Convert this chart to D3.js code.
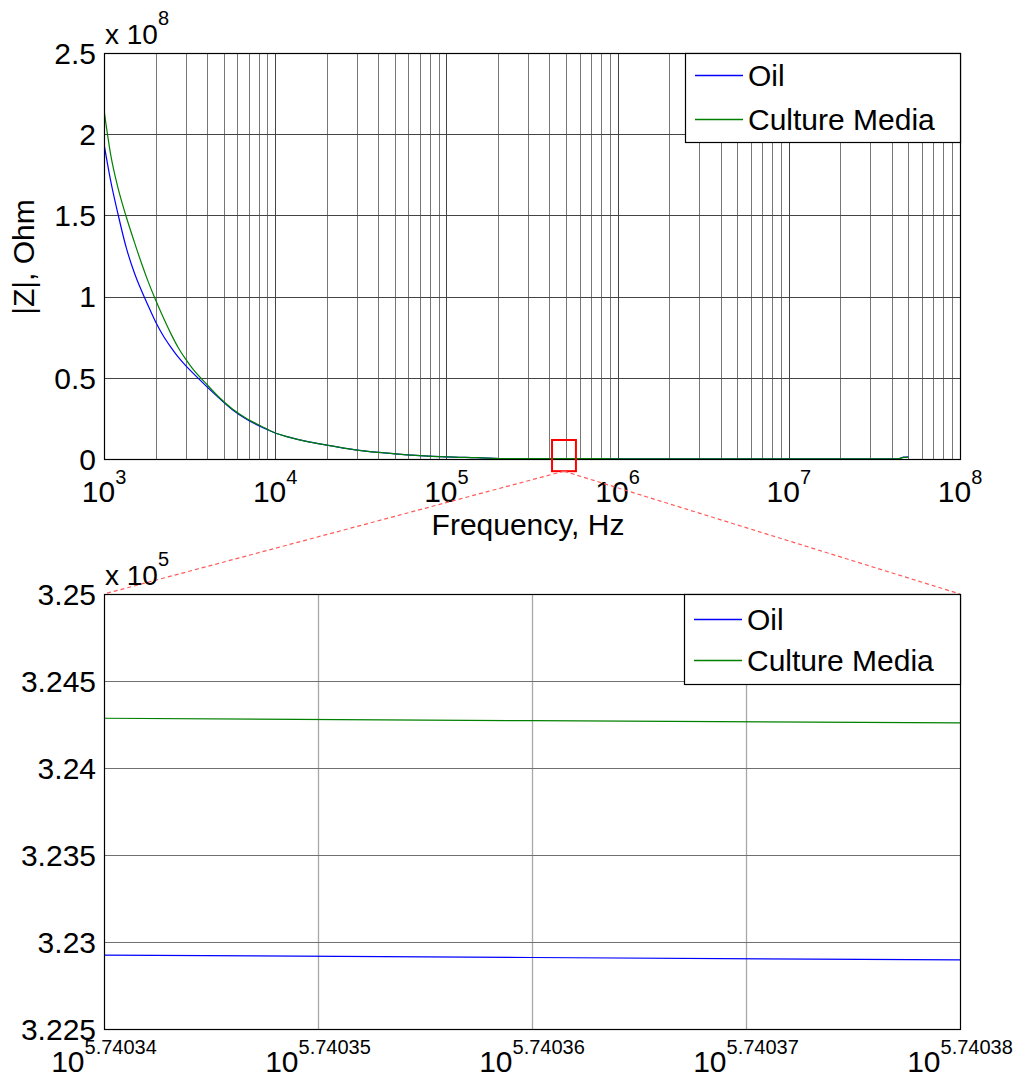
<!DOCTYPE html>
<html><head><meta charset="utf-8">
<script src="https://cdn.jsdelivr.net/npm/d3@7"></script>
<style>
body{margin:0;background:#fff}
text{font-family:"Liberation Sans",Arial,Helvetica,sans-serif;fill:#000}
</style>
</head><body>
<svg id="c" width="1021" height="1080"></svg>
<script>
// ---------- data ----------
const freq  = [1000,1100,1200,1350,1500,1650,1800,2000,2200,2450,2700,3000,3300,3900,4700,5600,6800,8200,10000,12000,15000,20000,30000,50000,70000,100000,150000,230000,500000,1e6,1e7,4.3e7,4.7e7,5e7];
// |Z| in units of 1e8 Ohm
const oil   = [1.94,1.70,1.52,1.30,1.15,1.04,0.95,0.845,0.765,0.69,0.63,0.575,0.53,0.455,0.375,0.305,0.245,0.20,0.16,0.135,0.11,0.085,0.055,0.032,0.021,0.013,0.008,0.002,0.0032,0.0016,0.0002,0.0005,0.012,0.014];
const media = [2.15,1.86,1.68,1.49,1.34,1.21,1.10,0.98,0.88,0.775,0.69,0.615,0.555,0.47,0.38,0.31,0.25,0.205,0.16,0.135,0.11,0.085,0.055,0.032,0.021,0.013,0.008,0.002,0.0032,0.0016,0.0002,0.0005,0.010,0.012];
// zoomed window (|Z| in units of 1e5 Ohm)
const zoomExp   = [5.74034,5.74036,5.74038];
const zoomOil   = [3.22925,3.22911,3.22897];
const zoomMedia = [3.24286,3.24272,3.24259];
// ticks
const topYTicks = [0,0.5,1,1.5,2,2.5];
const topXExp   = [3,4,5,6,7,8];
const botYTicks = [3.225,3.23,3.235,3.24,3.245,3.25];
const botXExp   = ["5.74034","5.74035","5.74036","5.74037","5.74038"];
const seriesNames = ["Oil","Culture Media"];
const seriesColors = ["#0000ff","#008000"];
// highlighted region on the top plot (frequency, |Z| ×1e8)
const boxFreq = [4.14e5,5.71e5];
const boxZ = [0.117,-0.075];

// ---------- layout ----------
const svg = d3.select("#c");
const L = 104, R = 960;
const T1 = 53, B1 = 459;
const T2 = 594, B2 = 1029;
const FS = 30;

// ---------- top plot ----------
const x1 = d3.scaleLog().domain([1e3,1e8]).range([L,R]);
const y1 = d3.scaleLinear().domain([0,2.5]).range([B1,T1]);

const g1 = svg.append("g");
const vGrid = [];
for (let k=3;k<8;k++) for (let m=1;m<=9;m++){ const v=m*Math.pow(10,k); if(v>1e3) vGrid.push(v); }
g1.selectAll(".vg").data(vGrid).join("line")
  .attr("x1",d=>Math.round(x1(d))+0.5).attr("x2",d=>Math.round(x1(d))+0.5)
  .attr("y1",T1).attr("y2",B1)
  .attr("stroke",d=>{const e=Math.log10(d);return Math.abs(e-Math.round(e))<1e-9?"#444":"#777";}).attr("stroke-width",1);
g1.selectAll(".hg").data(topYTicks.slice(1,-1)).join("line")
  .attr("x1",L).attr("x2",R).attr("y1",d=>Math.round(y1(d))+0.5).attr("y2",d=>Math.round(y1(d))+0.5)
  .attr("stroke","#444").attr("stroke-width",1);

svg.append("clipPath").attr("id","clip1").append("rect").attr("x",L).attr("y",T1).attr("width",R-L).attr("height",B1-T1+1);
const line1 = d3.line().x(d=>x1(d[0])).y(d=>y1(d[1])).curve(d3.curveMonotoneX);
const curves = svg.append("g").attr("clip-path","url(#clip1)");
curves.append("path").datum(freq.map((f,i)=>[f,oil[i]])).attr("d",line1)
  .attr("fill","none").attr("stroke",seriesColors[0]).attr("stroke-width",1.2);
curves.append("path").datum(freq.map((f,i)=>[f,media[i]])).attr("d",line1)
  .attr("fill","none").attr("stroke",seriesColors[1]).attr("stroke-width",1.2);

svg.append("rect").attr("x",L+0.5).attr("y",T1+0.5).attr("width",R-L).attr("height",B1-T1)
  .attr("fill","none").attr("stroke","#000").attr("stroke-width",1.2);

svg.append("g").selectAll("text").data(topYTicks).join("text")
  .attr("x",L-8).attr("y",d=>y1(d)).attr("dy","0.36em").attr("text-anchor","end")
  .attr("font-size",FS).text(d=>d);
const xt1 = svg.append("g").selectAll("text").data(topXExp).join("text")
  .attr("x",d=>x1(Math.pow(10,d))).attr("y",B1+43).attr("text-anchor","middle").attr("font-size",FS);
xt1.append("tspan").text("10");
xt1.append("tspan").attr("dy",-18).attr("font-size",20).text(d=>d);
const m1 = svg.append("text").attr("x",L+1).attr("y",T1-9).attr("font-size",28);
m1.append("tspan").text("x 10");
m1.append("tspan").attr("dy",-19).attr("font-size",20).text("8");
svg.append("text").attr("x",528).attr("y",535).attr("text-anchor","middle").attr("font-size",FS).text("Frequency, Hz");
svg.append("text").attr("transform","translate(34,257) rotate(-90)").attr("text-anchor","middle").attr("font-size",FS).text("|Z|, Ohm");

function legend(x0,y0,w,h,rows){
  const g = svg.append("g");
  g.append("rect").attr("x",x0+0.5).attr("y",y0+0.5).attr("width",w).attr("height",h)
    .attr("fill","#fff").attr("stroke","#000").attr("stroke-width",1.2);
  seriesNames.forEach((n,i)=>{
    g.append("line").attr("x1",x0+10).attr("x2",x0+58).attr("y1",rows[i]+0.5).attr("y2",rows[i]+0.5)
      .attr("stroke",seriesColors[i]).attr("stroke-width",1.5);
    g.append("text").attr("x",x0+63).attr("y",rows[i]).attr("dy","0.36em").attr("font-size",FS).text(n);
  });
}
legend(685,T1,275,89,[75,119]);

const bx0 = x1(boxFreq[0]), bx1 = x1(boxFreq[1]), by0 = y1(boxZ[0]), by1 = y1(boxZ[1]);
svg.append("rect").attr("x",bx0).attr("y",by0).attr("width",bx1-bx0).attr("height",by1-by0)
  .attr("fill","none").attr("stroke","#ff0000").attr("stroke-width",2);

// ---------- bottom plot ----------
const x2 = d3.scaleLog().domain([Math.pow(10,+botXExp[0]),Math.pow(10,+botXExp[botXExp.length-1])]).range([L,R]);
const y2 = d3.scaleLinear().domain([3.225,3.25]).range([B2,T2]);

const cx = (bx0+bx1)/2;
[[L,T2],[R,T2]].forEach(p=>{
  svg.append("line").attr("x1",cx).attr("y1",by1).attr("x2",p[0]).attr("y2",p[1])
    .attr("stroke","#ff5a5a").attr("stroke-width",1.2).attr("stroke-dasharray","4,3");
});

const g2 = svg.append("g");
g2.selectAll(".vg").data(botXExp.slice(1,-1)).join("line")
  .attr("x1",d=>Math.round(x2(Math.pow(10,+d)))+0.5).attr("x2",d=>Math.round(x2(Math.pow(10,+d)))+0.5)
  .attr("y1",T2).attr("y2",B2).attr("stroke","#a8a8a8").attr("stroke-width",1.3);
g2.selectAll(".hg").data(botYTicks.slice(1,-1)).join("line")
  .attr("x1",L).attr("x2",R).attr("y1",d=>Math.round(y2(d))+0.5).attr("y2",d=>Math.round(y2(d))+0.5)
  .attr("stroke","#707070").attr("stroke-width",1);

const line2 = d3.line().x(d=>x2(d[0])).y(d=>y2(d[1]));
const zf = zoomExp.map(e=>Math.pow(10,e));
svg.append("path").datum(zf.map((f,i)=>[f,zoomOil[i]])).attr("d",line2)
  .attr("fill","none").attr("stroke",seriesColors[0]).attr("stroke-width",1.2);
svg.append("path").datum(zf.map((f,i)=>[f,zoomMedia[i]])).attr("d",line2)
  .attr("fill","none").attr("stroke",seriesColors[1]).attr("stroke-width",1.2);

svg.append("rect").attr("x",L+0.5).attr("y",T2+0.5).attr("width",R-L).attr("height",B2-T2)
  .attr("fill","none").attr("stroke","#000").attr("stroke-width",1.2);

svg.append("g").selectAll("text").data(botYTicks).join("text")
  .attr("x",L-8).attr("y",d=>y2(d)).attr("dy","0.36em").attr("text-anchor","end")
  .attr("font-size",FS).text(d=>d);
const xt2 = svg.append("g").selectAll("text").data(botXExp).join("text")
  .attr("x",d=>x2(Math.pow(10,+d))).attr("y",B2+43).attr("text-anchor","middle").attr("font-size",FS);
xt2.append("tspan").text("10");
xt2.append("tspan").attr("dy",-18).attr("font-size",20).text(d=>d);
const m2 = svg.append("text").attr("x",L+1).attr("y",T2-9).attr("font-size",28);
m2.append("tspan").text("x 10");
m2.append("tspan").attr("dy",-19).attr("font-size",20).text("5");

legend(684,T2,276,90,[619,660]);
</script>
</body></html>
